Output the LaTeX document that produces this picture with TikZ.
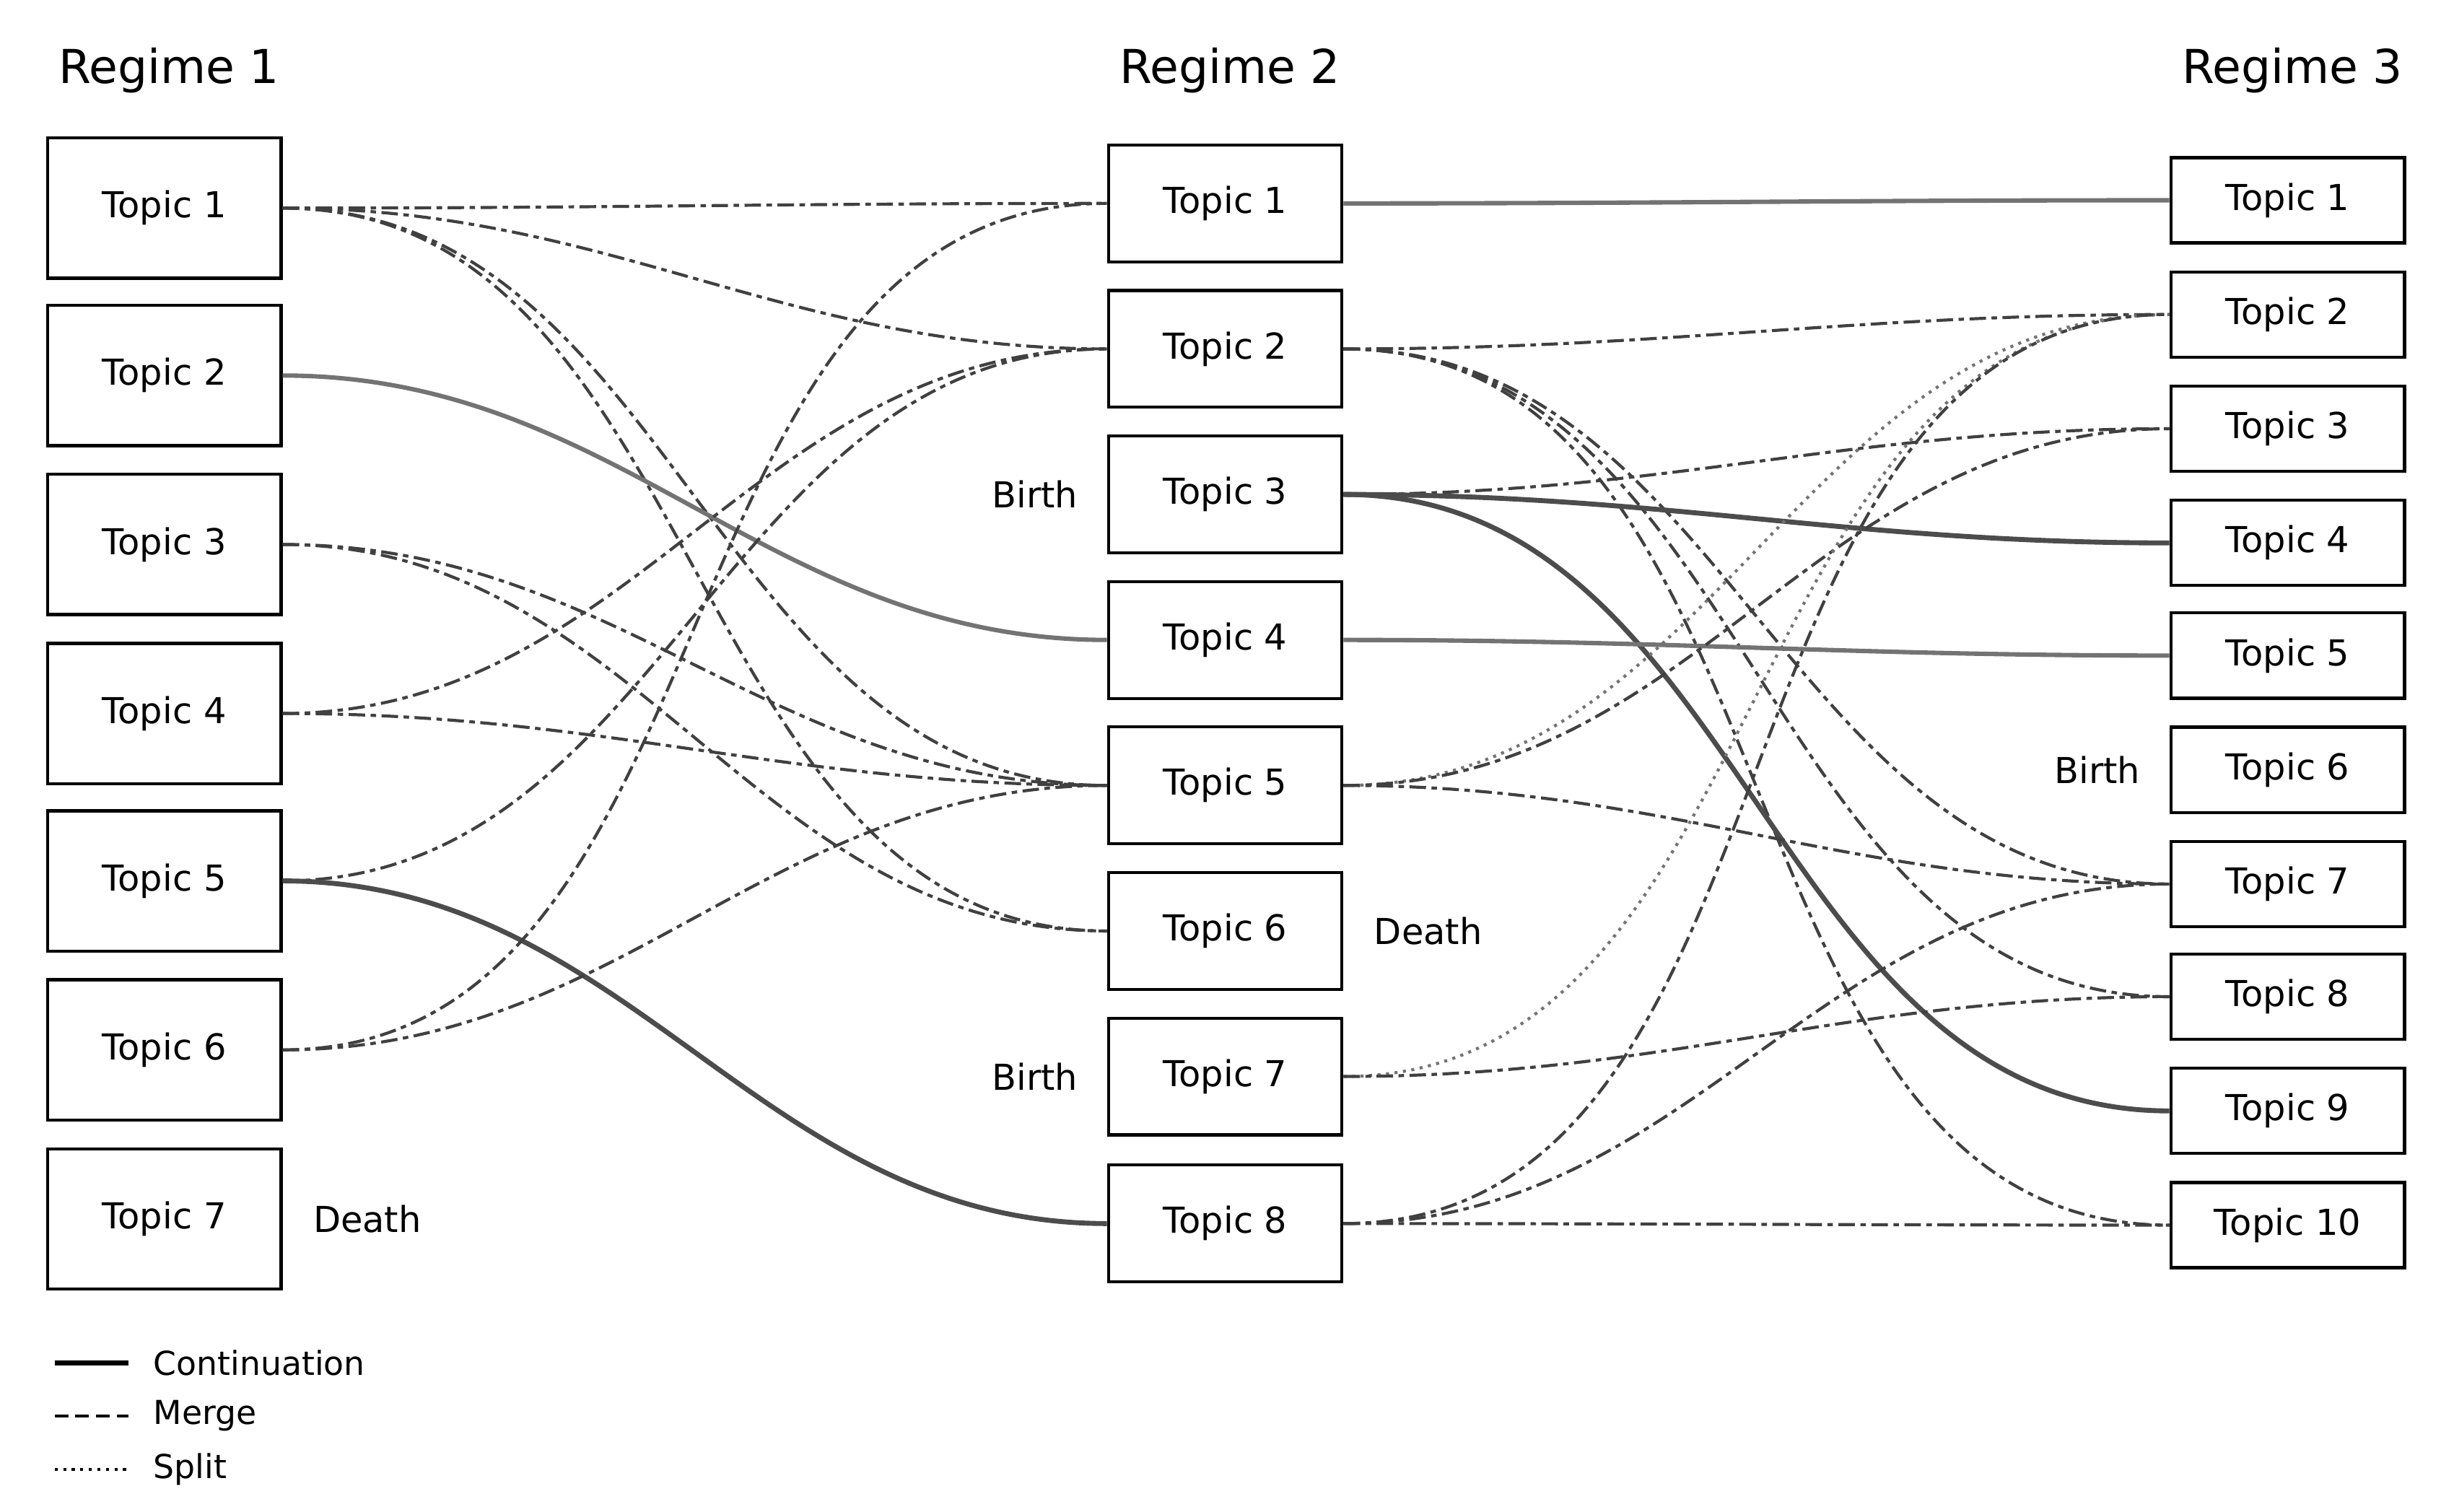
\documentclass[tikz,border=0pt]{standalone}
\usepackage{fontspec}
\setmainfont{DejaVu Sans}
\begin{document}
\begin{tikzpicture}[x=0.02cm,y=-0.02cm,
 box/.style={draw,line width=1.1pt,minimum width=85pt,inner sep=0pt,font=\fontsize{13}{15}\selectfont},
 b1/.style={box,minimum height=51pt},
 b2/.style={box,minimum height=42.5pt},
 b3/.style={box,minimum height=31pt},
 ttl/.style={font=\fontsize{17}{20}\selectfont},
 lab/.style={font=\fontsize{13}{15}\selectfont},
 mg/.style={draw=black!75,line width=1.1pt,dash pattern=on 6pt off 2pt on 2pt off 2pt},
 sp/.style={draw=black!55,line width=1.1pt,dotted},
 cg/.style={draw=black!55,line width=1.6pt},
 cd/.style={draw=black!70,line width=1.8pt},
 c/.style={out=0,in=180}]
\useasboundingbox (0,0) rectangle (1560,966);
\node[ttl] (h1) at (108,45) {Regime 1};
\node[ttl] (h2) at (786,45) {Regime 2};
\node[ttl] (h3) at (1465,45) {Regime 3};
\foreach \i/\y in {1/133,2/240,3/348,4/456,5/563,6/671,7/779} \node[b1] (a\i) at (105,\y) {Topic \i};
\foreach \i/\y in {1/130,2/223,3/316,4/409,5/502,6/595,7/688,8/782} \node[b2] (b\i) at (783,\y) {Topic \i};
\foreach \i/\y in {1/128,2/201,3/274,4/347,5/419,6/492,7/565,8/637,9/710,10/783} \node[b3] (c\i) at (1462,\y) {Topic \i};
\node[lab,anchor=west] (d1) at (194,779) {Death};
\node[lab,anchor=east] (bb3) at (695,316) {Birth};
\node[lab,anchor=east] (bb7) at (695,688) {Birth};
\node[lab,anchor=west] (d6) at (872,595) {Death};
\node[lab,anchor=east] (bc6) at (1374,492) {Birth};
% regime 1 -> 2
\draw[mg] (a1.east) to[c] (b1.west);
\draw[mg] (a1.east) to[c] (b2.west);
\draw[mg] (a1.east) to[c] (b5.west);
\draw[mg] (a1.east) to[c] (b6.west);
\draw[cg] (a2.east) to[c] (b4.west);
\draw[mg] (a3.east) to[c] (b5.west);
\draw[mg] (a3.east) to[c] (b6.west);
\draw[mg] (a4.east) to[c] (b2.west);
\draw[mg] (a4.east) to[c] (b5.west);
\draw[mg] (a5.east) to[c] (b2.west);
\draw[cd] (a5.east) to[c] (b8.west);
\draw[mg] (a6.east) to[c] (b1.west);
\draw[mg] (a6.east) to[c] (b5.west);
% regime 2 -> 3
\draw[cg] (b1.east) to[c] (c1.west);
\draw[mg] (b2.east) to[c] (c2.west);
\draw[mg] (b2.east) to[c] (c7.west);
\draw[mg] (b2.east) to[c] (c8.west);
\draw[mg] (b2.east) to[c] (c10.west);
\draw[mg] (b3.east) to[c] (c3.west);
\draw[cd] (b3.east) to[c] (c4.west);
\draw[cd] (b3.east) to[c] (c9.west);
\draw[cg] (b4.east) to[c] (c5.west);
\draw[sp] (b5.east) to[c] (c2.west);
\draw[mg] (b5.east) to[c] (c3.west);
\draw[mg] (b5.east) to[c] (c7.west);
\draw[sp] (b7.east) to[c] (c2.west);
\draw[mg] (b7.east) to[c] (c8.west);
\draw[mg] (b8.east) to[c] (c2.west);
\draw[mg] (b8.east) to[c] (c7.west);
\draw[mg] (b8.east) to[c] (c10.west);
% legend
\coordinate (l1a) at (35,871); \coordinate (l1b) at (82,871);
\coordinate (l2a) at (35,905); \coordinate (l2b) at (82,905);
\coordinate (l3a) at (35,939); \coordinate (l3b) at (82,939);
\draw[line width=1.8pt] (l1a) -- (l1b);
\draw[line width=1.3pt,dash pattern=on 5pt off 2.5pt] (l2a) -- (l2b);
\draw[line width=1.1pt,dotted] (l3a) -- (l3b);
\node[lab,anchor=west,font=\fontsize{12}{14}\selectfont] (t1) at (92,871) {Continuation};
\node[lab,anchor=west,font=\fontsize{12}{14}\selectfont] (t2) at (92,905) {Merge};
\node[lab,anchor=west,font=\fontsize{12}{14}\selectfont] (t3) at (92,939) {Split};
\end{tikzpicture}
\end{document}
